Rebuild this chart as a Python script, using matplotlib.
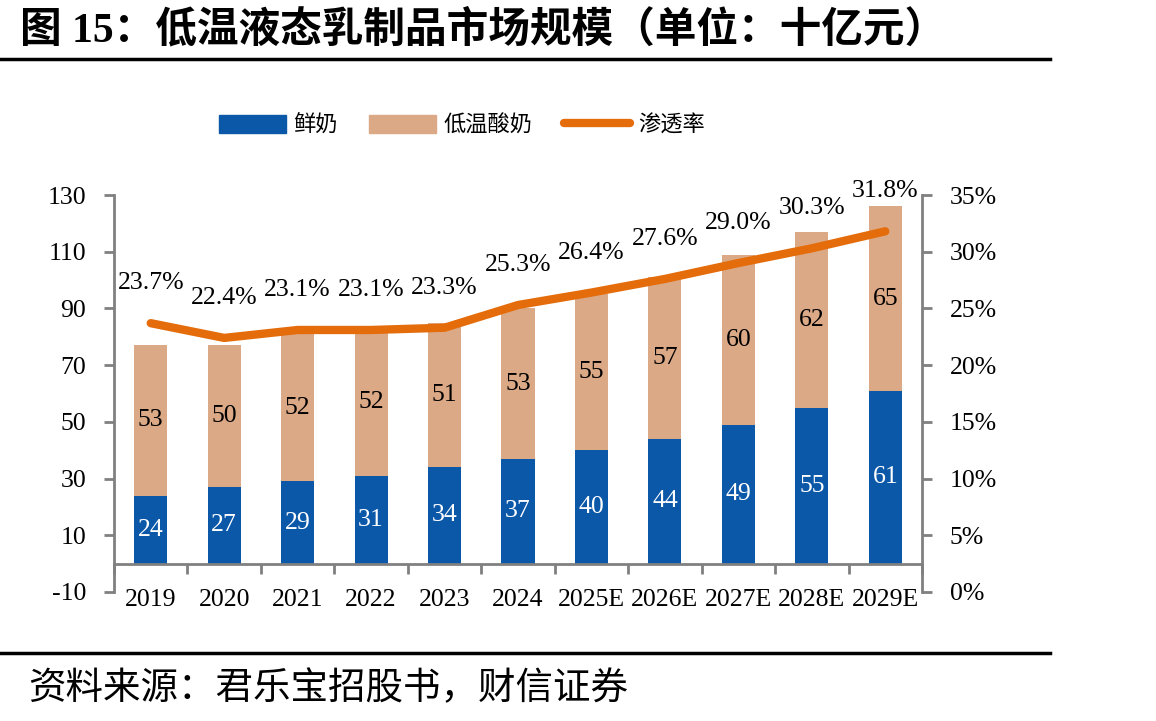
import matplotlib
matplotlib.use("Agg")
import matplotlib.pyplot as plt
from matplotlib.lines import Line2D
from matplotlib.patches import Patch
import numpy as np

categories = ["2019", "2020", "2021", "2022", "2023", "2024", "2025E", "2026E", "2027E", "2028E", "2029E"]
fresh_milk = [24, 27, 29, 31, 34, 37, 40, 44, 49, 55, 61]
low_temp_yogurt = [53, 50, 52, 52, 51, 53, 55, 57, 60, 62, 65]
penetration = [23.7, 22.4, 23.1, 23.1, 23.3, 25.3, 26.4, 27.6, 29.0, 30.3, 31.8]
left_ticks = [-10, 10, 30, 50, 70, 90, 110, 130]
right_ticks = [0, 5, 10, 15, 20, 25, 30, 35]

BLUE = "#0B57A8"
TAN = "#DBA986"
ORANGE = "#E46C0A"
GRAY = "#808080"
SERIF = ["Liberation Serif", "Noto Sans CJK SC", "DejaVu Sans"]
CJK = ["Noto Sans CJK SC", "DejaVu Sans"]

plt.rcParams["font.family"] = SERIF

fig = plt.figure(figsize=(11.56, 7.21), dpi=100)
ax = fig.add_axes([114/1156, 1-592/721, (922-114)/1156, (592-195)/721])
ax2 = ax.twinx()

x = np.arange(len(categories))
w = 0.45
ax.bar(x, fresh_milk, w, color=BLUE, zorder=2)
ax.bar(x, low_temp_yogurt, w, bottom=fresh_milk, color=TAN, zorder=2)

for i in range(len(x)):
    ax.text(x[i], fresh_milk[i]/2, str(fresh_milk[i]), ha="center", va="center",
            color="white", fontsize=18.5, zorder=3)
    ax.text(x[i], fresh_milk[i] + low_temp_yogurt[i]/2, str(low_temp_yogurt[i]),
            ha="center", va="center", color="black", fontsize=18.5, zorder=3)

ax.set_xlim(-0.5, len(x) - 0.5)
ax.set_ylim(-10, 130)
ax.set_yticks(left_ticks)
ax.set_yticklabels([str(t) for t in left_ticks], fontsize=18.5)

ax.spines["bottom"].set_position(("data", 0))
for s in ["top", "right"]:
    ax.spines[s].set_visible(False)
for s in ["left", "bottom"]:
    ax.spines[s].set_color(GRAY)
    ax.spines[s].set_linewidth(2)

ax.set_xticks(np.arange(len(x) + 1) - 0.5)
ax.set_xticklabels([])
ax.tick_params(axis="x", which="major", direction="out", length=7, width=2, color=GRAY)
ax.set_xticks(x, minor=True)
ax.set_xticklabels(categories, minor=True, fontsize=18.5)
ax.tick_params(axis="x", which="minor", length=0, pad=18)
ax.tick_params(axis="y", direction="out", length=7, width=2, color=GRAY, pad=13)

ax2.plot(x, [p/100 for p in penetration], color=ORANGE, lw=6, solid_capstyle="round",
         solid_joinstyle="round", zorder=4)
for i in range(len(x)):
    ax2.annotate(f"{penetration[i]:.1f}%", (x[i], penetration[i]/100),
                 xytext=(0, 40), textcoords="offset pixels", ha="center", va="center",
                 fontsize=18.5)
ax2.set_ylim(0, 0.35)
ax2.set_yticks([t/100 for t in right_ticks])
ax2.set_yticklabels([f"{t}%" for t in right_ticks], fontsize=18.5)
for s in ["top", "left", "bottom"]:
    ax2.spines[s].set_visible(False)
ax2.spines["right"].set_color(GRAY)
ax2.spines["right"].set_linewidth(2)
ax2.tick_params(axis="y", direction="out", length=7, width=2, color=GRAY, pad=13)

# legend
handles = [Patch(color=BLUE), Patch(color=TAN),
           Line2D([0], [0], color=ORANGE, lw=6, solid_capstyle="round")]
labels = ["鲜奶", "低温酸奶", "渗透率"]
fig.legend(handles, labels, loc="center", bbox_to_anchor=(462/1156, 1-125/721), ncol=3,
           frameon=False, prop={"family": CJK, "size": 16}, handlelength=3.0,
           handleheight=0.85, columnspacing=1.4, handletextpad=0.35)

# title and rules
fig.text(20/1156, 1-30/721, "图 15：低温液态乳制品市场规模（单位：十亿元）",
         ha="left", va="center", fontsize=30, fontweight="bold", family=SERIF)
fig.add_artist(Line2D([0, 1050/1156], [1-59/721, 1-59/721], color="black", lw=2.5))
fig.add_artist(Line2D([0, 1050/1156], [1-653/721, 1-653/721], color="black", lw=2.5))
fig.text(28/1156, 1-689/721, "资料来源：君乐宝招股书，财信证券", ha="left", va="center",
         fontsize=27, style="italic", family=CJK)

fig.savefig("out.png", dpi=100)
